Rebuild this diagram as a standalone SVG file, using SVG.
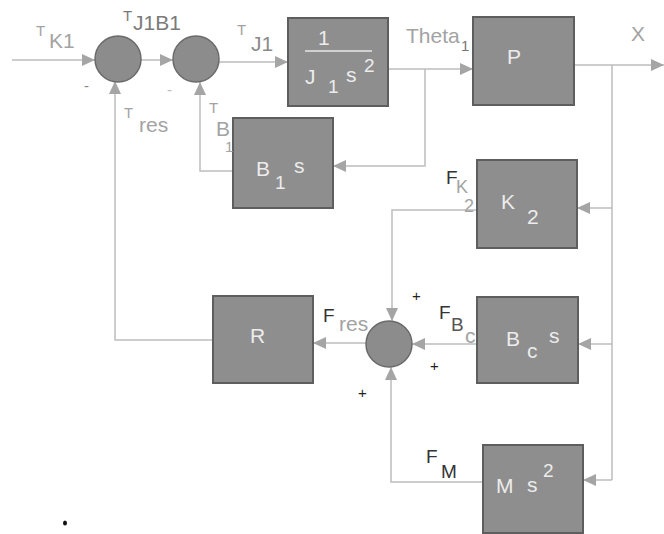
<svg xmlns="http://www.w3.org/2000/svg" width="664" height="534" viewBox="0 0 664 534">
<style>
.blk{fill:#8e8e8e;stroke:#5e5e5e;stroke-width:2}
.sum{fill:#8c8c8c;stroke:#6a6a6a;stroke-width:1.5}
.ln{fill:none;stroke:#bdbdbd;stroke-width:1.5}
.arr{marker-end:url(#ah)}
text{font-family:"Liberation Sans",Arial,sans-serif}
.bt{fill:#ececec;font-size:21px}
.bs{fill:#ececec;font-size:19px}
.lg{fill:#a3a3a3;font-size:21px}
.lgs{fill:#a3a3a3;font-size:15px}
.lk{fill:#333;font-size:19px}
.pl{fill:#222;font-size:15px}
</style>
<defs>
<marker id="ah" markerUnits="userSpaceOnUse" markerWidth="14" markerHeight="12" refX="13" refY="6" orient="auto">
<path d="M0,0 L13,6 L0,12 z" fill="#a5a5a5"/>
</marker>
</defs>
<g id="connectors">
<path class="ln arr" d="M12,60 H95"/>
<path class="ln arr" d="M141,60 H173"/>
<path class="ln arr" d="M219,62 H288"/>
<path class="ln arr" d="M388,69 H473"/>
<path class="ln arr" d="M425,69 V166 H333"/>
<path class="ln arr" d="M233,171 H200 V82"/>
<path class="ln arr" d="M213,340 H115 V81"/>
<path class="ln arr" d="M574,65 H664"/>
<path class="ln" d="M612,65 V480"/>
<path class="ln arr" d="M612,208 H577"/>
<path class="ln arr" d="M612,344 H578"/>
<path class="ln arr" d="M612,480 H583"/>
<path class="ln arr" d="M477,210 H392 V321"/>
<path class="ln arr" d="M477,344 H412"/>
<path class="ln arr" d="M483,482 H391 V367"/>
<path class="ln arr" d="M366,343 H313"/>
</g>
<g id="sum1"><circle class="sum" cx="118" cy="59" r="23"/></g>
<g id="sum2"><circle class="sum" cx="196" cy="59" r="23"/></g>
<g id="sum3"><circle class="sum" cx="389" cy="344" r="23"/></g>
<g id="block-J1"><rect class="blk" x="288" y="18" width="100" height="88"/>
<text class="bt" x="318" y="45">1</text>
<line x1="305" y1="51" x2="372" y2="51" stroke="#e6e6e6" stroke-width="1.5"/>
<text class="bt" x="305" y="84">J</text><text class="bs" x="328" y="93">1</text><text class="bt" x="346" y="82">s</text><text class="bs" x="364" y="72">2</text>
</g>
<g id="block-P"><rect class="blk" x="473" y="17" width="101" height="88"/><text class="bt" x="507" y="64">P</text></g>
<g id="block-B1s"><rect class="blk" x="233" y="118" width="100" height="90"/><text class="bt" x="256" y="176">B</text><text class="bs" x="275" y="189">1</text><text class="bt" x="294" y="173">s</text></g>
<g id="block-K2"><rect class="blk" x="477" y="160" width="100" height="88"/><text class="bt" x="501" y="209">K</text><text class="bt" x="527" y="224">2</text></g>
<g id="block-R"><rect class="blk" x="213" y="296" width="100" height="87"/><text class="bt" x="250" y="343">R</text></g>
<g id="block-Bcs"><rect class="blk" x="477" y="297" width="101" height="86"/><text class="bt" x="506" y="346">B</text><text class="bt" x="527" y="358">c</text><text class="bt" x="549" y="343">s</text></g>
<g id="block-Ms2"><rect class="blk" x="483" y="445" width="100" height="88"/><text class="bt" x="496" y="493">M</text><text class="bt" x="527" y="492">s</text><text class="bs" x="543" y="477">2</text></g>
<g id="labels">
<text class="lgs" x="36" y="36">T</text><text class="lg" x="49" y="48">K1</text>
<text class="lgs" x="123" y="21" style="fill:#7a7a7a">T</text><text class="lg" x="133" y="30" style="fill:#7a7a7a">J1B1</text>
<text class="lgs" x="237" y="35">T</text><text class="lg" x="251" y="51" style="fill:#8a8a8a">J1</text>
<text class="lg" x="406" y="43">Theta</text><text class="lgs" x="461" y="51" style="fill:#777">1</text>
<text class="lg" x="631" y="41">X</text>
<text class="lgs" x="124" y="118">T</text><text class="lg" x="139" y="132">res</text>
<text class="lgs" x="209" y="113">T</text><text class="lg" x="216" y="136">B</text><text class="lgs" x="225" y="152">1</text>
<text class="lk" x="446" y="184">F</text><text class="lg" x="456" y="193" font-size="18" style="font-size:18px">K</text><text class="lg" x="464" y="212" style="font-size:18px">2</text>
<text class="lk" x="323" y="322">F</text><text class="lg" x="339" y="331">res</text>
<text class="lk" x="439" y="319">F</text><text class="lk" x="451" y="331" style="fill:#555">B</text><text class="lg" x="465" y="343">c</text>
<text class="lk" x="426" y="463">F</text><text class="lk" x="441" y="478">M</text>
<text class="pl" x="412" y="301">+</text><text class="pl" x="430" y="371">+</text><text class="pl" x="358" y="398">+</text>
<text class="lgs" x="84" y="91" style="fill:#888">-</text><text class="lgs" x="167" y="95" style="fill:#bbb">-</text>
</g>
<ellipse cx="65" cy="523" rx="2" ry="2.5" fill="#111"/>
</svg>
